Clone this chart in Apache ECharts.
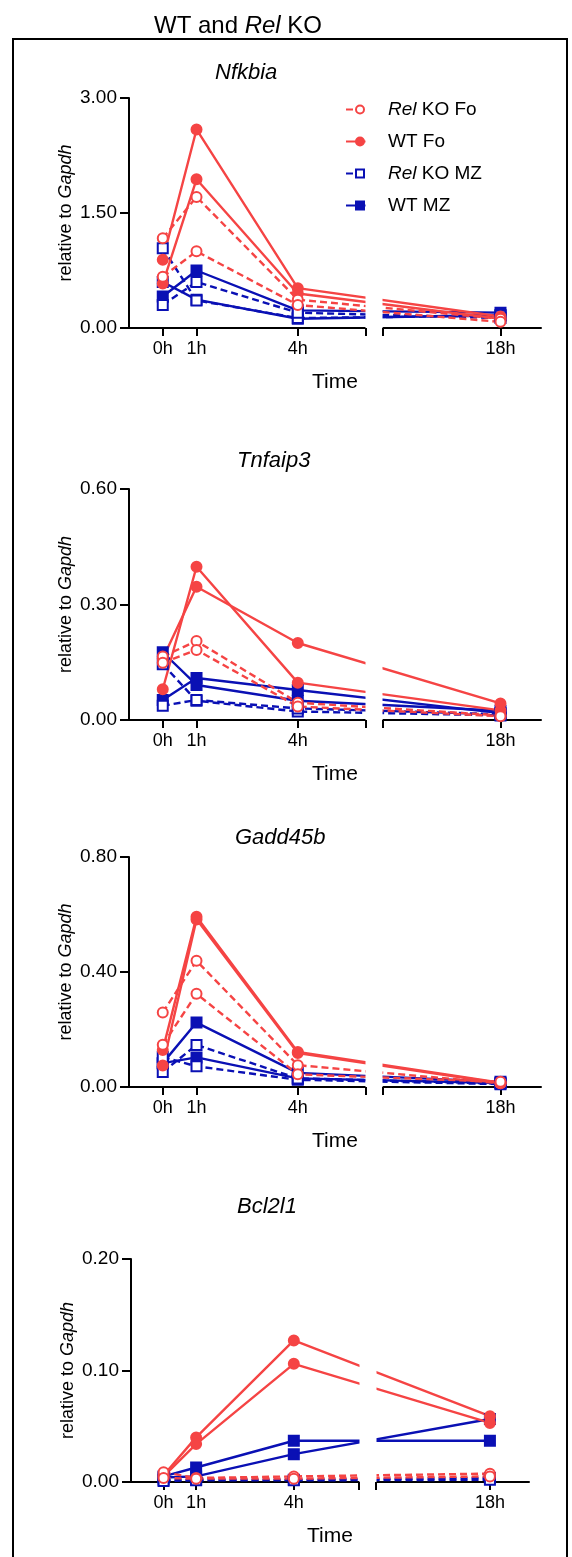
<!DOCTYPE html>
<html>
<head>
<meta charset="utf-8">
<script src="https://cdn.jsdelivr.net/npm/echarts@6/dist/echarts.min.js"></script>
<style>
  html, body { margin: 0; padding: 0; background: #fff; }
  #chart { width: 572px; height: 1557px; }
</style>
</head>
<body>
<div id="chart"></div>
<script>
const hours = [0, 1, 4, 18];
const tickHours = [0, 1, 4, 18];
const genes = ['Nfkbia', 'Tnfaip3', 'Gadd45b', 'Bcl2l1'];
const yMax = [3, 0.6, 0.8, 0.2];

// two replicates per group, values at 0h, 1h, 4h, 18h
const nfkbiaKoFo = [[1.17, 1.71, 0.37, 0.12], [0.67, 1.00, 0.30, 0.08]];
const nfkbiaWtFo = [[0.89, 2.59, 0.52, 0.15], [0.58, 1.94, 0.45, 0.12]];
const nfkbiaKoMz = [[1.04, 0.36, 0.13, 0.16], [0.30, 0.60, 0.20, 0.13]];
const nfkbiaWtMz = [[0.41, 0.75, 0.23, 0.20], [0.60, 0.37, 0.12, 0.17]];

const tnfaip3KoFo = [[0.165, 0.205, 0.045, 0.012], [0.149, 0.182, 0.035, 0.010]];
const tnfaip3WtFo = [[0.08, 0.398, 0.097, 0.025], [0.16, 0.346, 0.20, 0.043]];
const tnfaip3KoMz = [[0.145, 0.05, 0.022, 0.012], [0.037, 0.052, 0.03, 0.015]];
const tnfaip3WtMz = [[0.176, 0.091, 0.05, 0.024], [0.052, 0.109, 0.078, 0.018]];

const gadd45bKoFo = [[0.259, 0.439, 0.076, 0.013], [0.147, 0.324, 0.044, 0.018]];
const gadd45bWtFo = [[0.129, 0.592, 0.122, 0.015], [0.075, 0.583, 0.118, 0.013]];
const gadd45bKoMz = [[0.104, 0.072, 0.025, 0.010], [0.052, 0.146, 0.03, 0.012]];
const gadd45bWtMz = [[0.083, 0.224, 0.049, 0.018], [0.083, 0.103, 0.03, 0.014]];

const bcl2l1KoFo = [[0.0087, 0.0036, 0.005, 0.0075], [0.0036, 0.003, 0.003, 0.005]];
const bcl2l1WtFo = [[0.006, 0.040, 0.127, 0.059], [0.005, 0.034, 0.106, 0.053]];
const bcl2l1KoMz = [[0.002, 0.002, 0.002, 0.0036], [0.001, 0.0015, 0.0015, 0.002]];
const bcl2l1WtMz = [[0.005, 0.013, 0.037, 0.037], [0.004, 0.005, 0.025, 0.0565]];

const panelData = [
  { koFo: nfkbiaKoFo, wtFo: nfkbiaWtFo, koMz: nfkbiaKoMz, wtMz: nfkbiaWtMz },
  { koFo: tnfaip3KoFo, wtFo: tnfaip3WtFo, koMz: tnfaip3KoMz, wtMz: tnfaip3WtMz },
  { koFo: gadd45bKoFo, wtFo: gadd45bWtFo, koMz: gadd45bKoMz, wtMz: gadd45bWtMz },
  { koFo: bcl2l1KoFo, wtFo: bcl2l1WtFo, koMz: bcl2l1KoMz, wtMz: bcl2l1WtMz },
];

const RED = '#f54444';
const BLUE = '#0a10b4';
const FONT = "'Liberation Sans', Arial, sans-serif";

// drawing order: blue first, red dashed on top
const groups = [
  { key: 'wtMz', name: 'WT MZ', color: BLUE, dashed: false, filled: true, symbol: 'rect', size: 10 },
  { key: 'koMz', name: 'Rel KO MZ', color: BLUE, dashed: true, filled: false, symbol: 'rect', size: 10 },
  { key: 'wtFo', name: 'WT Fo', color: RED, dashed: false, filled: true, symbol: 'circle', size: 10 },
  { key: 'koFo', name: 'Rel KO Fo', color: RED, dashed: true, filled: false, symbol: 'circle', size: 10 },
];

// panel layout (pixels)
const gridBoxes = [
  { left: 129, width: 412, top: 98, height: 230 },
  { left: 129, width: 412, top: 489, height: 231 },
  { left: 129, width: 412, top: 857, height: 230 },
  { left: 131, width: 398, top: 1259, height: 223 },
];
const titlePos = [
  { left: 215, top: 62 },
  { left: 237, top: 450 },
  { left: 235, top: 827 },
  { left: 237, top: 1196 },
];

const grid = [];
const xAxis = [];
const yAxis = [];
const series = [];
const title = [{
  text: 'WT and {i|Rel} KO',
  left: 238,
  top: 14,
  textAlign: 'center',
  padding: 0,
  textStyle: {
    fontFamily: FONT, fontSize: 24, fontWeight: 'normal', color: '#000',
    rich: { i: { fontFamily: FONT, fontSize: 24, fontStyle: 'italic', color: '#000' } },
  },
}];

genes.forEach((gene, i) => {
  grid.push(gridBoxes[i]);
  title.push({
    text: gene,
    left: titlePos[i].left,
    top: titlePos[i].top,
    padding: 0,
    textStyle: { fontFamily: FONT, fontSize: 22, fontStyle: 'italic', fontWeight: 'normal', color: '#000' },
  });
  xAxis.push({
    type: 'value',
    gridIndex: i,
    min: -1,
    max: 19.2,
    breaks: [{ start: 6, end: 14.5, gap: (17 / gridBoxes[i].width * 100).toFixed(2) + '%' }],
    breakArea: {
      show: true,
      itemStyle: { color: '#fff', borderColor: '#fff', borderWidth: 0, opacity: 1 },
      zigzagAmplitude: 0,
    },
    splitLine: { show: false },
    axisLine: { show: true, onZero: false, lineStyle: { color: '#000', width: 2 } },
    axisTick: { show: true, length: 8, customValues: [0, 1, 4, 6, 14.5, 18], lineStyle: { color: '#000', width: 2 } },
    axisLabel: {
      customValues: tickHours,
      formatter: (v) => `${v}h`,
      fontFamily: FONT, fontSize: 18, color: '#000', margin: 12,
    },
    name: 'Time',
    nameLocation: 'middle',
    nameGap: 44,
    nameTextStyle: { fontFamily: FONT, fontSize: 21, color: '#000' },
  });
  yAxis.push({
    type: 'value',
    gridIndex: i,
    min: 0,
    max: yMax[i],
    interval: yMax[i] / 2,
    splitLine: { show: false },
    axisLine: { show: true, onZero: false, lineStyle: { color: '#000', width: 2 } },
    axisTick: { show: true, length: 9, lineStyle: { color: '#000', width: 2 } },
    axisLabel: {
      formatter: (v) => v.toFixed(2),
      fontFamily: FONT, fontSize: 19, color: '#000', margin: 12,
    },
    name: 'relative to {i|Gapdh}',
    nameLocation: 'middle',
    nameGap: 54,
    nameMoveOverlap: false,
    nameTextStyle: {
      fontFamily: FONT, fontSize: 18, color: '#000',
      rich: { i: { fontFamily: FONT, fontSize: 18, fontStyle: 'italic', color: '#000' } },
    },
  });
  groups.forEach((g) => {
    panelData[i][g.key].forEach((rep) => {
      series.push({
        type: 'line',
        name: g.name,
        xAxisIndex: i,
        yAxisIndex: i,
        data: hours.map((h, k) => [h, rep[k]]),
        symbol: g.symbol,
        symbolSize: g.size,
        showAllSymbol: true,
        itemStyle: { color: g.filled ? g.color : '#fff', borderColor: g.color, borderWidth: 2 },
        lineStyle: { color: g.color, width: 2.4, type: g.dashed ? [7, 4] : 'solid' },
        emphasis: { disabled: true },
        silent: true,
      });
    });
  });
});

const options = {
  animation: false,
  backgroundColor: '#fff',
  title,
  legend: {
    data: ['Rel KO Fo', 'WT Fo', 'Rel KO MZ', 'WT MZ'],
    orient: 'vertical',
    left: 345,
    top: 100,
    padding: 0,
    itemWidth: 28,
    itemHeight: 10,
    itemGap: 13,
    formatter: (name) => name.replace('Rel', '{i|Rel}'),
    textStyle: {
      fontFamily: FONT, fontSize: 19, color: '#000',
      padding: [0, 0, 0, 9],
      rich: { i: { fontFamily: FONT, fontSize: 19, fontStyle: 'italic', color: '#000' } },
    },
  },
  grid,
  xAxis,
  yAxis,
  series,
  graphic: [{
    type: 'rect',
    shape: { x: 13, y: 39, width: 554, height: 1530 },
    style: { fill: 'none', stroke: '#000', lineWidth: 2 },
    silent: true,
    z: 100,
  }],
};

const myChart = echarts.init(document.getElementById('chart'));
myChart.setOption(options);
</script>
</body>
</html>
